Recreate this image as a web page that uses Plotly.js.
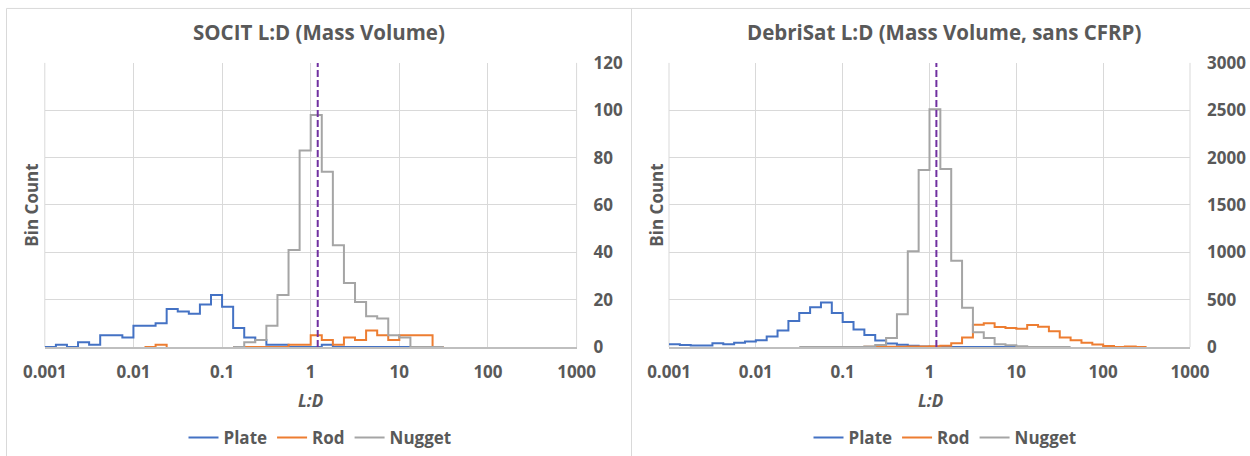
<!DOCTYPE html>
<html>
<head>
<meta charset="utf-8">
<script src="https://cdn.plot.ly/plotly-3.0.1.min.js"></script>
<style>
  html, body { margin: 0; padding: 0; background: #ffffff; }
  #chart { width: 1250px; height: 456px; }
</style>
</head>
<body>
<div id="chart"></div>
<script>
// ---------- data ----------
// Histogram bins: 8 bins per decade; bin index k starts at L:D = 10^(k/8) (k = 0 -> L:D = 1)
const BINS_PER_DECADE = 8;
const seriesNames = ['Plate', 'Rod', 'Nugget'];
const xTickVals = [0.001, 0.01, 0.1, 1, 10, 100, 1000];
const xTickText = ['0.001', '0.01', '0.1', '1', '10', '100', '1000'];
const meanLD = 1.2;   // dashed reference line

// SOCIT (left)
const socitPlateStart = -24;
const socitPlate = [0, 1, 0, 2, 1, 5, 5, 4, 9, 9, 10, 16, 15, 14, 18, 22, 17, 8, 4, 3, 1, 1, 0, 0, 0, 1, 0, 0, 0, 0, 0, 0, 0];
const socitRodStart = -15;
const socitRod = [0, 1, 0, null, null, null, null, null, 0, 0, 0, 0, 0, 1, 1, 5, 3, 1, 4, 3, 7, 5, 3, 5, 5, 5, 0];
const socitNuggetStart = -7;
const socitNugget = [0, 2, 3, 9, 22, 41, 83, 98, 74, 43, 27, 19, 13, 12, 5, 4, 0, 0, 0];

// DebriSat (right)
const debriPlateStart = -24;
const debriPlate = [30, 20, 15, 15, 40, 30, 45, 58, 70, 110, 175, 275, 360, 420, 470, 360, 265, 185, 128, 68, 38, 25, 12, 5, 3, 0, 0, 0, 0, 0, 0, 0, 0];
const debriRodStart = -7;
const debriRod = [0, 3, 3, 3, 3, 4, 5, 8, 12, 40, 100, 235, 250, 210, 200, 192, 232, 214, 165, 100, 72, 46, 27, 10, 0, 5, 0];
const debriNuggetStart = -12;
const debriNugget = [0, 0, 0, 0, 0, 0, 5, 20, 95, 345, 1010, 1870, 2510, 1880, 910, 415, 155, 95, 30, 18, 7, 0, 0, 0, 0];

const leftYMax = 120, leftYStep = 20;
const rightYMax = 3000, rightYStep = 500;

// ---------- styling ----------
const colors = { Plate: '#4472C4', Rod: '#ED7D31', Nugget: '#A5A5A5' };
const textColor = '#595959';
const gridColor = '#d9d9d9';
const FONT = 'Open Sans, Noto Sans, sans-serif';
const W = 1250, H = 456;
const px = v => v / W;
const py = v => (H - v) / H;

function stepTrace(name, counts, start, xa, ya, legendId, showLegend) {
  const x = counts.map((c, i) => Math.pow(10, (start + i) / BINS_PER_DECADE));
  x.push(Math.pow(10, (start + counts.length) / BINS_PER_DECADE));
  const y = counts.concat([counts[counts.length - 1]]);
  return {
    type: 'scatter', mode: 'lines', name: name, x: x, y: y,
    line: { shape: 'hv', color: colors[name], width: 2 },
    xaxis: xa, yaxis: ya, legend: legendId, showlegend: showLegend,
    connectgaps: false, hoverinfo: 'x+y+name'
  };
}
function meanLine(xa, ya, ymax) {
  return {
    type: 'scatter', mode: 'lines', x: [meanLD, meanLD], y: [0, ymax],
    line: { color: '#7030A0', width: 2, dash: '7px,3px' },
    xaxis: xa, yaxis: ya, showlegend: false, hoverinfo: 'skip'
  };
}

const data = [
  stepTrace('Plate', socitPlate, socitPlateStart, 'x', 'y', 'legend', true),
  stepTrace('Rod', socitRod, socitRodStart, 'x', 'y', 'legend', true),
  stepTrace('Nugget', socitNugget, socitNuggetStart, 'x', 'y', 'legend', true),
  meanLine('x', 'y', leftYMax),
  stepTrace('Plate', debriPlate, debriPlateStart, 'x2', 'y2', 'legend2', true),
  stepTrace('Rod', debriRod, debriRodStart, 'x2', 'y2', 'legend2', true),
  stepTrace('Nugget', debriNugget, debriNuggetStart, 'x2', 'y2', 'legend2', true),
  meanLine('x2', 'y2', rightYMax)
];

const tickFont = { family: FONT, size: 17, color: textColor, weight: 'bold' };

function xAxis(domain, anchor) {
  return {
    domain: domain, anchor: anchor, type: 'log', range: [-3, 3],
    tickmode: 'array', tickvals: xTickVals, ticktext: xTickText,
    showgrid: true, gridcolor: gridColor, gridwidth: 1,
    showline: true, linecolor: '#bfbfbf', linewidth: 1.5,
    ticks: '', tickfont: tickFont, ticklabelstandoff: 9,
    zeroline: false, fixedrange: true
  };
}
function yAxis(domain, anchor, ymax, step) {
  return {
    domain: domain, anchor: anchor, side: 'right', range: [0, ymax],
    tickmode: 'linear', tick0: 0, dtick: step,
    showgrid: true, gridcolor: gridColor, gridwidth: 1,
    showline: false, zeroline: false, ticks: '',
    tickfont: tickFont, ticklabelstandoff: 16, fixedrange: true
  };
}
// vertical gridlines at the two ends of each log axis (0.001 and 1000)
function edgeGrid(xd, yd, pos) {
  return { type: 'line', xref: xd, yref: yd, x0: pos, x1: pos, y0: 0, y1: 1,
           line: { color: gridColor, width: 1 }, layer: 'below' };
}

const yDomain = [py(349.3), py(63.3)];
const legendFont = { family: FONT, size: 17, color: textColor, weight: 'bold' };
const layout = {
  width: W, height: H,
  margin: { l: 0, r: 0, t: 0, b: 0 },
  paper_bgcolor: '#ffffff', plot_bgcolor: '#ffffff',
  font: { family: FONT, color: textColor },
  xaxis: xAxis([px(44.8), px(576.6)], 'y'),
  yaxis: yAxis(yDomain, 'x', leftYMax, leftYStep),
  xaxis2: xAxis([px(669), px(1190)], 'y2'),
  yaxis2: yAxis(yDomain, 'x2', rightYMax, rightYStep),
  legend: {
    orientation: 'h', x: px(320), xanchor: 'center', y: py(441), yanchor: 'middle',
    font: legendFont, bgcolor: 'rgba(0,0,0,0)', itemwidth: 30, tracegroupgap: 0
  },
  legend2: {
    orientation: 'h', x: px(945), xanchor: 'center', y: py(441), yanchor: 'middle',
    font: legendFont, bgcolor: 'rgba(0,0,0,0)', itemwidth: 30, tracegroupgap: 0
  },
  annotations: [
    { text: 'SOCIT L:D (Mass Volume)', xref: 'paper', yref: 'paper', x: px(319), y: py(32),
      xanchor: 'center', yanchor: 'middle', showarrow: false,
      font: { family: FONT, size: 20.5, color: textColor, weight: 'bold' } },
    { text: 'DebriSat L:D (Mass Volume, sans CFRP)', xref: 'paper', yref: 'paper', x: px(944), y: py(32),
      xanchor: 'center', yanchor: 'middle', showarrow: false,
      font: { family: FONT, size: 20.5, color: textColor, weight: 'bold' } },
    { text: 'Bin Count', xref: 'paper', yref: 'paper', x: px(32), y: py(207), textangle: -90,
      xanchor: 'center', yanchor: 'middle', showarrow: false,
      font: { family: FONT, size: 17, color: textColor, weight: 'bold' } },
    { text: 'Bin Count', xref: 'paper', yref: 'paper', x: px(657), y: py(207), textangle: -90,
      xanchor: 'center', yanchor: 'middle', showarrow: false,
      font: { family: FONT, size: 17, color: textColor, weight: 'bold' } },
    { text: 'L:D', xref: 'paper', yref: 'paper', x: px(310), y: py(403),
      xanchor: 'center', yanchor: 'middle', showarrow: false,
      font: { family: FONT, size: 17, color: textColor, weight: 'bold', style: 'italic' } },
    { text: 'L:D', xref: 'paper', yref: 'paper', x: px(930), y: py(403),
      xanchor: 'center', yanchor: 'middle', showarrow: false,
      font: { family: FONT, size: 17, color: textColor, weight: 'bold', style: 'italic' } }
  ],
  shapes: [
    { type: 'rect', xref: 'paper', yref: 'paper', x0: px(6.5), x1: px(1252), y0: py(470), y1: py(8.5),
      line: { color: '#d9d9d9', width: 1 }, fillcolor: 'rgba(0,0,0,0)', layer: 'below' },
    { type: 'line', xref: 'paper', yref: 'paper', x0: px(631.5), x1: px(631.5), y0: py(470), y1: py(8.5),
      line: { color: '#d9d9d9', width: 1 }, layer: 'below' },
    edgeGrid('x domain', 'y domain', 0), edgeGrid('x domain', 'y domain', 1),
    edgeGrid('x2 domain', 'y2 domain', 0), edgeGrid('x2 domain', 'y2 domain', 1)
  ]
};

Plotly.newPlot('chart', data, layout, { displayModeBar: false, staticPlot: true });
</script>
</body>
</html>
